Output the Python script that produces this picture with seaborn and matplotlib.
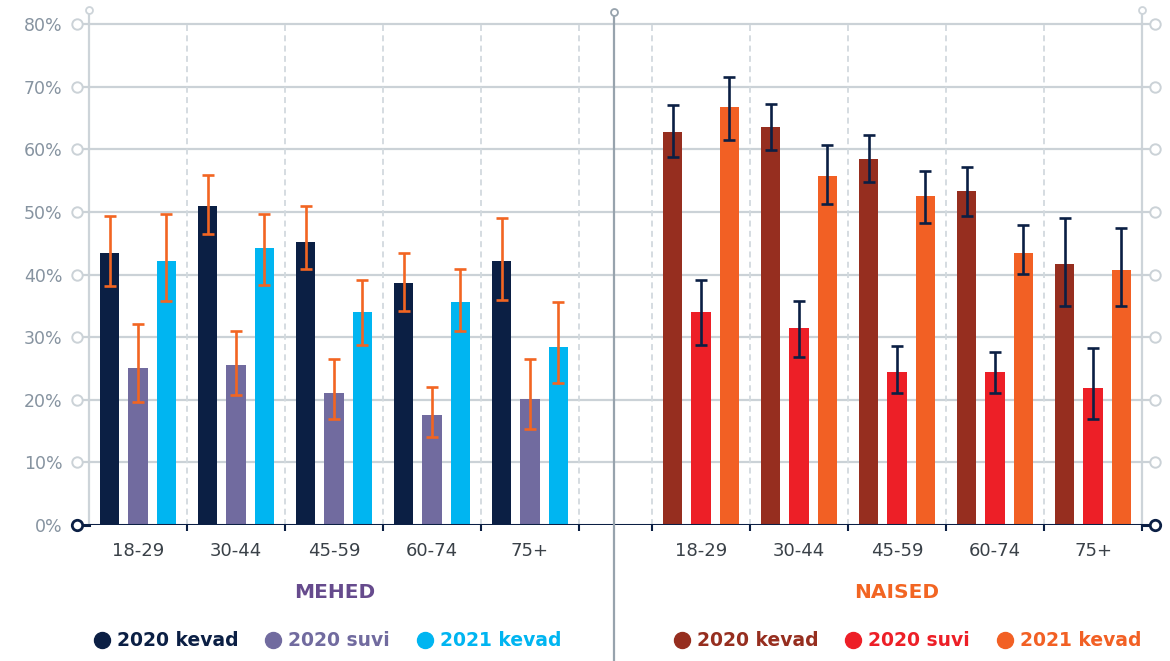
import numpy as np
import pandas as pd
import matplotlib
matplotlib.use("Agg")
import matplotlib.pyplot as plt
import seaborn as sns
from matplotlib.lines import Line2D
from matplotlib.transforms import blended_transform_factory

# ---- data -------------------------------------------------------------
ages = ["18-29", "30-44", "45-59", "60-74", "75+"]
periods = ["2020 kevad", "2020 suvi", "2021 kevad"]

# Men (MEHED): share, lower and upper confidence bounds, %
men_2020_kevad = [43.5, 51.0, 45.2, 38.6, 42.1]
men_2020_kevad_lo = [38.1, 46.4, 40.8, 34.1, 36.0]
men_2020_kevad_hi = [49.3, 55.9, 50.9, 43.4, 49.0]
men_2020_suvi = [25.0, 25.5, 21.0, 17.5, 20.1]
men_2020_suvi_lo = [19.6, 20.8, 16.9, 14.0, 15.3]
men_2020_suvi_hi = [32.1, 31.0, 26.5, 22.0, 26.5]
men_2021_kevad = [42.1, 44.2, 34.0, 35.6, 28.4]
men_2021_kevad_lo = [35.8, 38.4, 28.7, 30.9, 22.7]
men_2021_kevad_hi = [49.6, 49.7, 39.2, 40.8, 35.6]

# Women (NAISED)
women_2020_kevad = [62.8, 63.5, 58.4, 53.3, 41.6]
women_2020_kevad_lo = [58.7, 59.9, 54.8, 49.4, 34.9]
women_2020_kevad_hi = [67.1, 67.2, 62.2, 57.2, 49.0]
women_2020_suvi = [34.0, 31.4, 24.4, 24.4, 21.8]
women_2020_suvi_lo = [28.7, 26.9, 21.0, 21.0, 16.9]
women_2020_suvi_hi = [39.2, 35.7, 28.6, 27.7, 28.2]
women_2021_kevad = [66.7, 55.7, 52.5, 43.5, 40.7]
women_2021_kevad_lo = [61.4, 51.3, 48.3, 40.1, 34.9]
women_2021_kevad_hi = [71.5, 60.6, 56.6, 47.9, 47.5]

y_ticks = [0, 10, 20, 30, 40, 50, 60, 70, 80]
y_tick_labels = [f"{v}%" for v in y_ticks]

# ---- colours ----------------------------------------------------------
NAVY = "#0b1f44"
men_colors = [NAVY, "#716b9f", "#00b5f1"]
women_colors = ["#962e1f", "#ed1f27", "#f26024"]
men_err_color = "#f26522"
women_err_color = NAVY
GRID = "#cbd2d7"
SPINE = "#cdd4d9"
DIVIDER = "#97a3ad"
TICK_TXT = "#8693a0"
CAT_TXT = "#3a4148"

plt.rcParams["font.family"] = ["DejaVu Sans"]

W, H = 1170, 661
fig = plt.figure(figsize=(W / 100, H / 100), dpi=100)
fig.patch.set_facecolor("white")

y_top = 80 * 515 / 501
ax_m = fig.add_axes([89 / W, 136 / H, 525 / W, 515 / H])
ax_w = fig.add_axes([614 / W, 136 / H, 528 / W, 515 / H])


def long_frame(series):
    rows = []
    for period, vals in zip(periods, series):
        for age, v in zip(ages, vals):
            rows.append({"age": age, "period": period, "value": v})
    return pd.DataFrame(rows)


def draw_panel(ax, series, lows, highs, colors, err_color):
    df = long_frame(series)
    sns.barplot(data=df, x="age", y="value", hue="period", order=ages,
                hue_order=periods, palette=colors, saturation=1,
                width=0.87, gap=0.33, errorbar=None, legend=False,
                linewidth=0, ax=ax, zorder=3)
    # error bars on the bar centres, ordered as category then period
    bars = sorted(ax.patches, key=lambda p: p.get_x())
    centers = [p.get_x() + p.get_width() / 2 for p in bars]
    vals = [series[j][i] for i in range(len(ages)) for j in range(len(periods))]
    lo = [lows[j][i] for i in range(len(ages)) for j in range(len(periods))]
    hi = [highs[j][i] for i in range(len(ages)) for j in range(len(periods))]
    yerr = np.array([np.subtract(vals, lo), np.subtract(hi, vals)])
    ax.errorbar(centers, vals, yerr=yerr, fmt="none", ecolor=err_color,
                elinewidth=1.9, capsize=4.3, capthick=1.9, zorder=4)


draw_panel(ax_m,
           [men_2020_kevad, men_2020_suvi, men_2021_kevad],
           [men_2020_kevad_lo, men_2020_suvi_lo, men_2021_kevad_lo],
           [men_2020_kevad_hi, men_2020_suvi_hi, men_2021_kevad_hi],
           men_colors, men_err_color)
draw_panel(ax_w,
           [women_2020_kevad, women_2020_suvi, women_2021_kevad],
           [women_2020_kevad_lo, women_2020_suvi_lo, women_2021_kevad_lo],
           [women_2020_kevad_hi, women_2020_suvi_hi, women_2021_kevad_hi],
           women_colors, women_err_color)

slot_px = 98
ax_m.set_xlim(-0.5, -0.5 + 525 / slot_px)
ax_w.set_xlim(4.5 - 528 / slot_px, 4.5)

for ax, bounds in [(ax_m, [0.5, 1.5, 2.5, 3.5, 4.5]),
                   (ax_w, [-0.5, 0.5, 1.5, 2.5, 3.5, 4.5])]:
    ax.set_ylim(0, y_top)
    ax.set_facecolor("none")
    for s in ax.spines.values():
        s.set_visible(False)
    ax.set_xlabel("")
    ax.set_ylabel("")
    # horizontal grid
    for v in y_ticks[1:]:
        ax.axhline(v, color=GRID, lw=1.6, zorder=1)
    # dashed category separators
    ax.vlines([b for b in bounds if b < 4.5 or ax is ax_m], 0, 80,
              colors="#d2d9de", lw=1.3, linestyles=(0, (3.3, 2.4)), zorder=1)
    # baseline
    ax.axhline(0, color=NAVY, lw=2.2, zorder=5)
    ax.set_xticks(range(len(ages)))
    ax.set_xticklabels(ages, fontsize=13, color=CAT_TXT)
    ax.set_xticks(bounds, minor=True)
    ax.tick_params(axis="x", which="major", length=0, pad=12)
    ax.tick_params(axis="x", which="minor", length=4, width=1.5, color=NAVY,
                   direction="out")

# y tick labels on the men panel only
ax_m.set_yticks(y_ticks)
ax_m.set_yticklabels(y_tick_labels, fontsize=12.5, color=TICK_TXT)
ax_m.tick_params(axis="y", length=0, pad=19)
ax_w.set_yticks([])

# axis lines with ring-shaped ends
tr_m = blended_transform_factory(ax_m.transAxes, ax_m.transData)
tr_w = blended_transform_factory(ax_w.transAxes, ax_w.transData)
ax_m.plot([0, 0], [0, y_top], color=SPINE, lw=1.6, transform=tr_m,
          clip_on=False, zorder=2)
ax_w.plot([1, 1], [0, y_top], color=SPINE, lw=1.6, transform=tr_w,
          clip_on=False, zorder=2)
for ax, tr, x in [(ax_m, tr_m, 0), (ax_w, tr_w, 1)]:
    ax.plot([x], [y_top], marker="o", ms=5, mfc="white", mec=SPINE, mew=1.3,
            transform=tr, clip_on=False, zorder=6)

# tick rings outside the plotting area
lx = -12 / 525
rx = 1 + 13 / 528
for v in y_ticks:
    col = NAVY if v == 0 else GRID
    lw = 2.2 if v == 0 else 1.6
    mew = 2.0 if v == 0 else 1.4
    ax_m.plot([lx, 0], [v, v], color=col, lw=lw, transform=tr_m, clip_on=False,
              zorder=5)
    ax_m.plot([lx], [v], marker="o", ms=7.5, mfc="white", mec=col, mew=mew,
              transform=tr_m, clip_on=False, zorder=6)
    ax_w.plot([1, rx], [v, v], color=col, lw=lw, transform=tr_w, clip_on=False,
              zorder=5)
    ax_w.plot([rx], [v], marker="o", ms=7.5, mfc="white", mec=col, mew=mew,
              transform=tr_w, clip_on=False, zorder=6)

# divider between the panels, running to the bottom of the figure
xd = 614 / W
fig.add_artist(Line2D([xd, xd], [0, 1 - 12 / H], color=DIVIDER, lw=1.6,
                      zorder=7))
fig.add_artist(Line2D([xd], [1 - 12 / H], marker="o", ms=5, mfc="white",
                      mec=DIVIDER, mew=1.3, zorder=8))

# group titles
fig.text(335 / W, 1 - 593 / H, "MEHED", ha="center", va="center",
         color="#664b8d", fontsize=14.5, fontweight="bold")
fig.text(897 / W, 1 - 593 / H, "NAISED", ha="center", va="center",
         color="#f26522", fontsize=14.5, fontweight="bold")

# legends
for colors, cx in [(men_colors, 327), (women_colors, 907)]:
    handles = [Line2D([], [], marker="o", ls="", color=c, ms=11.5) for c in colors]
    fig.legend(handles, periods, loc="center", ncol=3,
               bbox_to_anchor=(cx / W, 1 - 641 / H), frameon=False,
               labelcolor=colors, prop={"weight": "bold", "size": 13.5},
               handletextpad=0.3, columnspacing=1.35, handlelength=1.0,
               borderpad=0)

fig.savefig("out.png", dpi=100, facecolor="white")
